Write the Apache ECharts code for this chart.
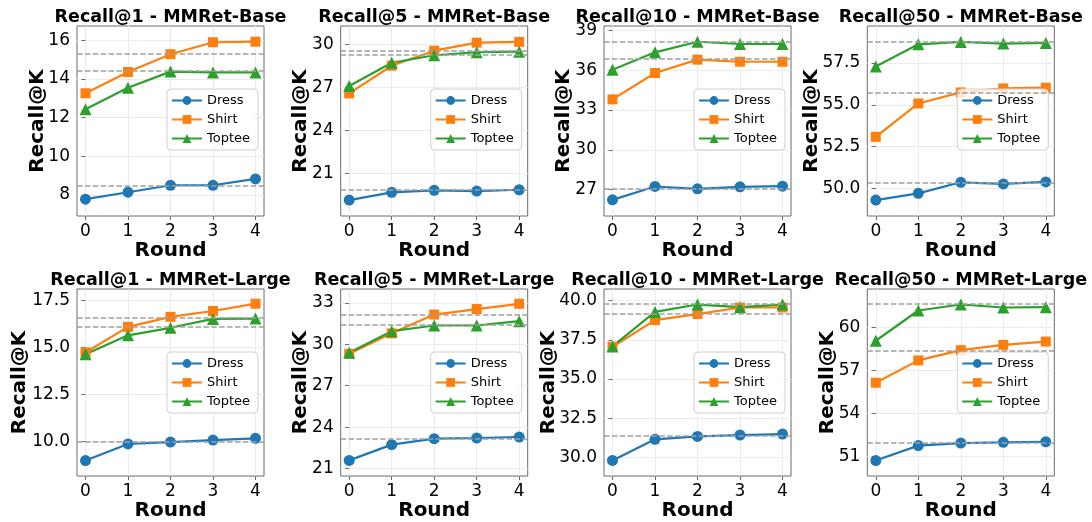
<!DOCTYPE html>
<html>
<head>
<meta charset="utf-8">
<script src="https://cdn.jsdelivr.net/npm/echarts@6/dist/echarts.min.js"></script>
<style>
html, body { margin: 0; padding: 0; background: #fff; }
#chart { width: 1092px; height: 522px; }
</style>
</head>
<body>
<div id="chart"></div>
<script>
var rounds = [0, 1, 2, 3, 4];
var seriesNames = ['Dress', 'Shirt', 'Toptee'];
var panelTitles = [
    'Recall@1 - MMRet-Base', 'Recall@5 - MMRet-Base', 'Recall@10 - MMRet-Base', 'Recall@50 - MMRet-Base',
    'Recall@1 - MMRet-Large', 'Recall@5 - MMRet-Large', 'Recall@10 - MMRet-Large', 'Recall@50 - MMRet-Large'
];

// one row of 5 rounds per panel
var dressVals = [
    [7.78, 8.14, 8.50, 8.50, 8.83], [19.16, 19.70, 19.84, 19.79, 19.88],
    [26.22, 27.23, 27.05, 27.20, 27.25], [49.32, 49.72, 50.38, 50.28, 50.40],
    [9.00, 9.88, 9.98, 10.09, 10.18], [21.60, 22.74, 23.17, 23.22, 23.29],
    [29.81, 31.16, 31.34, 31.43, 31.49], [50.70, 51.74, 51.92, 51.97, 52.01]
];
var shirtVals = [
    [13.26, 14.36, 15.28, 15.90, 15.93], [26.60, 28.53, 29.58, 30.14, 30.19],
    [33.81, 35.80, 36.81, 36.65, 36.65], [53.09, 55.08, 55.74, 55.98, 56.02],
    [14.74, 16.10, 16.63, 16.94, 17.33], [29.31, 30.79, 32.15, 32.55, 32.93],
    [37.06, 38.76, 39.14, 39.56, 39.56], [56.13, 57.69, 58.40, 58.77, 59.00]
];
var topteeVals = [
    [12.43, 13.55, 14.38, 14.34, 14.34], [27.12, 28.74, 29.26, 29.47, 29.51],
    [36.05, 37.36, 38.16, 37.99, 37.99], [57.28, 58.61, 58.75, 58.65, 58.69],
    [14.65, 15.65, 16.05, 16.52, 16.54], [29.38, 30.95, 31.36, 31.36, 31.67],
    [37.08, 39.28, 39.75, 39.58, 39.75], [59.06, 61.17, 61.59, 61.38, 61.40]
];

// dashed reference levels
var dressRef = [8.50, 19.86, 27.08, 50.36, 10.00, 23.17, 31.37, 51.97];
var shirtRef = [15.28, 29.56, 36.86, 55.70, 16.58, 32.12, 39.18, 58.36];
var topteeRef = [14.41, 29.30, 38.18, 58.77, 16.09, 31.38, 39.77, 61.63];

// y limits + tick labels
var yMin = [6.91, 18.05, 25.0, 48.37, 8.18, 20.47, 28.82, 49.62];
var yMax = [16.74, 31.3, 39.35, 59.7, 18.11, 34.0, 40.74, 62.67];
var yTicks = [
    [8, 10, 12, 14, 16], [21, 24, 27, 30], [27, 30, 33, 36, 39], [50, 52.5, 55, 57.5],
    [10, 12.5, 15, 17.5], [21, 24, 27, 30, 33], [30, 32.5, 35, 37.5, 40], [51, 54, 57, 60]
];
var yDecimals = [0, 0, 0, 1, 1, 0, 1, 0];

var FONT = 'DejaVu Sans';
var colors = ['#1f77b4', '#ff7f0e', '#2ca02c'];
var symbols = ['circle', 'rect', 'triangle'];
var symbolSizes = [11, 10, 12];
var gridLefts = [77, 340.7, 604, 867.3];
var gridTops = [26, 289];
var W = 187, H = 190;
var nameGaps = [29, 30, 30, 46, 47, 30, 45, 30];
var allVals = [dressVals, shirtVals, topteeVals];
var allRefs = [dressRef, shirtRef, topteeRef];

function buildOption() {
    var grids = [], xAxes = [], yAxes = [], series = [], titles = [], legends = [];

    for (var i = 0; i < 8; i++) {
        var col = i % 4, row = Math.floor(i / 4);
        var gl = gridLefts[col], gt = gridTops[row];

        grids.push({ left: gl, top: gt, width: W, height: H, show: true, borderColor: '#6b6b6b', borderWidth: 1 });

        titles.push({
            text: panelTitles[i], left: gl + W / 2, top: gt - 18, textAlign: 'center', padding: 0,
            textStyle: { fontFamily: FONT, fontSize: 17.5, fontWeight: 'bold', color: '#000' }
        });

        xAxes.push({
            gridIndex: i, type: 'value', min: -0.2, max: 4.2,
            name: 'Round', nameLocation: 'middle', nameGap: 25, nameMoveOverlap: false,
            nameTextStyle: { fontFamily: FONT, fontSize: 20, fontWeight: 'bold', color: '#000' },
            axisLine: { show: false },
            axisTick: { show: true, length: 4, customValues: rounds.slice(), lineStyle: { color: '#6b6b6b' } },
            axisLabel: { customValues: rounds.slice(), margin: 7, fontFamily: FONT, fontSize: 17, color: '#000' },
            splitLine: { show: true, lineStyle: { color: '#ebebeb', width: 1 } }
        });

        yAxes.push({
            gridIndex: i, type: 'value', min: yMin[i], max: yMax[i],
            name: 'Recall@K', nameLocation: 'middle', nameGap: nameGaps[i], nameMoveOverlap: false,
            nameTextStyle: { fontFamily: FONT, fontSize: 20, fontWeight: 'bold', color: '#000' },
            axisLine: { show: false },
            axisTick: { show: true, length: 4, customValues: yTicks[i].slice(), lineStyle: { color: '#6b6b6b' } },
            axisLabel: {
                customValues: yTicks[i].slice(), margin: 7, fontFamily: FONT, fontSize: 17, color: '#000',
                formatter: (function (d) { return function (v) { return v.toFixed(d); }; })(yDecimals[i])
            },
            splitLine: { show: true, lineStyle: { color: '#ebebeb', width: 1 } }
        });

        legends.push({
            data: seriesNames, orient: 'vertical',
            right: 1092 - (gl + W - 6), top: gt + 63,
            itemWidth: 30, itemHeight: 11, itemGap: 6, padding: [5, 8, 5, 4],
            borderColor: '#d0d0d0', borderWidth: 1, borderRadius: 4,
            backgroundColor: 'rgba(255,255,255,0.8)',
            textStyle: { fontFamily: FONT, fontSize: 13, color: '#000' }
        });

        for (var s = 0; s < 3; s++) {
            var vals = allVals[s][i];
            series.push({
                name: seriesNames[s], type: 'line', xAxisIndex: i, yAxisIndex: i,
                data: rounds.map(function (r, k) { return [r, vals[k]]; }),
                symbol: symbols[s], symbolSize: symbolSizes[s],
                lineStyle: { width: 2.2, color: colors[s] },
                itemStyle: { color: colors[s] },
                markLine: {
                    silent: true, symbol: 'none', label: { show: false },
                    lineStyle: { type: [5.5, 2.4], color: '#a0a0a0', width: 1.5 },
                    data: [{ yAxis: allRefs[s][i] }]
                },
                z: 3
            });
        }
    }

    return {
        animation: false,
        backgroundColor: '#fff',
        title: titles,
        grid: grids,
        xAxis: xAxes,
        yAxis: yAxes,
        legend: legends,
        series: series
    };
}

var chart = echarts.init(document.getElementById('chart'));
chart.setOption(buildOption());
</script>
</body>
</html>
